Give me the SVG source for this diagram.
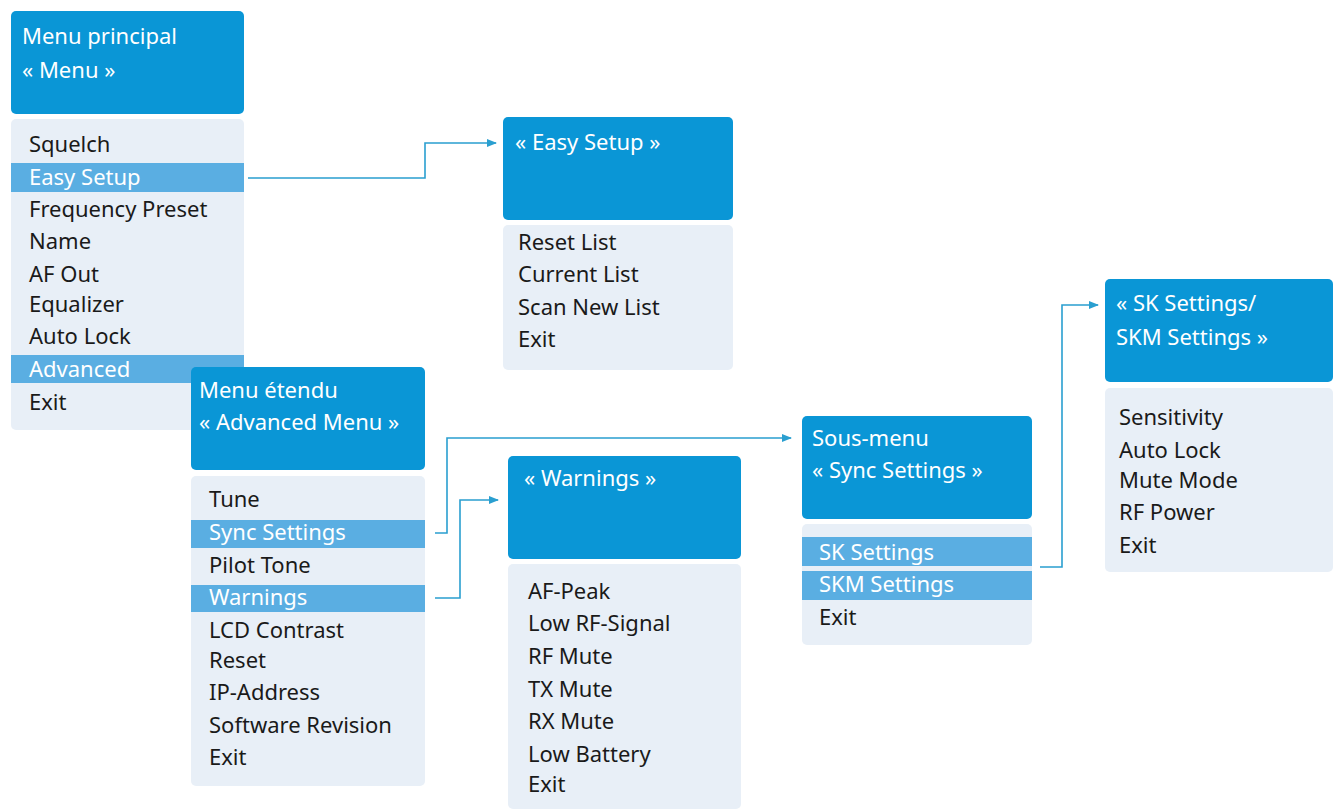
<svg xmlns="http://www.w3.org/2000/svg" width="1340" height="809" viewBox="0 0 1340 809">
<defs>
<marker id="ar" markerWidth="10" markerHeight="8" refX="9" refY="4" orient="auto" markerUnits="userSpaceOnUse"><path d="M0,0 L10,4 L0,8 z" fill="#2a9fd0"/></marker>
</defs>
<style>
.h{fill:#0a96d6}
.b{fill:#e8eff7}
.hl{fill:#5aaee2}
.ht{font-family:"Noto Sans","Open Sans",sans-serif;font-size:22px;fill:#fff}
.t{font-family:"Noto Sans","Open Sans",sans-serif;font-size:22px;fill:#1a1a1a}
.w{fill:#fff}
.c{fill:none;stroke:#2a9fd0;stroke-width:1.6}
</style>
<rect width="1340" height="809" fill="#fff"/>
<g id="main">
<rect class="b" x="11" y="119" width="233" height="311" rx="5"/>
<rect class="hl" x="11" y="163" width="233" height="29"/>
<rect class="hl" x="11" y="355" width="233" height="28"/>
<rect class="h" x="11" y="11" width="233" height="103" rx="5"/>
<text class="ht" x="22" y="44">Menu principal</text>
<text class="ht" x="22" y="78">« Menu »</text>
<text class="t" x="29" y="152">Squelch</text>
<text class="t w" x="29" y="185" style="fill:#fff">Easy Setup</text>
<text class="t" x="29" y="217">Frequency Preset</text>
<text class="t" x="29" y="249">Name</text>
<text class="t" x="29" y="282">AF Out</text>
<text class="t" x="29" y="312">Equalizer</text>
<text class="t" x="29" y="344">Auto Lock</text>
<text class="t" x="29" y="377" style="fill:#fff">Advanced</text>
<text class="t" x="29" y="410">Exit</text>
</g>
<g id="easy">
<rect class="b" x="503" y="225" width="230" height="145" rx="5"/>
<rect class="h" x="503" y="117" width="230" height="103" rx="5"/>
<text class="ht" x="515" y="150">« Easy Setup »</text>
<text class="t" x="518" y="250">Reset List</text>
<text class="t" x="518" y="282">Current List</text>
<text class="t" x="518" y="315">Scan New List</text>
<text class="t" x="518" y="347">Exit</text>
</g>
<g id="advanced">
<rect class="b" x="191" y="476" width="234" height="310" rx="5"/>
<rect class="hl" x="191" y="520" width="234" height="28"/>
<rect class="hl" x="191" y="585" width="234" height="27"/>
<rect class="h" x="191" y="367" width="234" height="103" rx="5"/>
<text class="ht" x="199" y="398">Menu étendu</text>
<text class="ht" x="199" y="430">« Advanced Menu »</text>
<text class="t" x="209" y="507">Tune</text>
<text class="t" x="209" y="540" style="fill:#fff">Sync Settings</text>
<text class="t" x="209" y="573">Pilot Tone</text>
<text class="t" x="209" y="605" style="fill:#fff">Warnings</text>
<text class="t" x="209" y="638">LCD Contrast</text>
<text class="t" x="209" y="668">Reset</text>
<text class="t" x="209" y="700">IP-Address</text>
<text class="t" x="209" y="733">Software Revision</text>
<text class="t" x="209" y="765">Exit</text>
</g>
<g id="warnings">
<rect class="b" x="508" y="564" width="233" height="245" rx="5"/>
<rect class="h" x="508" y="456" width="233" height="103" rx="5"/>
<text class="ht" x="524" y="486">« Warnings »</text>
<text class="t" x="528" y="599">AF-Peak</text>
<text class="t" x="528" y="631">Low RF-Signal</text>
<text class="t" x="528" y="664">RF Mute</text>
<text class="t" x="528" y="697">TX Mute</text>
<text class="t" x="528" y="729">RX Mute</text>
<text class="t" x="528" y="762">Low Battery</text>
<text class="t" x="528" y="792">Exit</text>
</g>
<g id="sync">
<rect class="b" x="802" y="524" width="230" height="121" rx="5"/>
<rect class="hl" x="802" y="537" width="230" height="29"/>
<rect class="hl" x="802" y="571" width="230" height="29"/>
<rect class="h" x="802" y="416" width="230" height="103" rx="5"/>
<text class="ht" x="812" y="446">Sous-menu</text>
<text class="ht" x="812" y="478">« Sync Settings »</text>
<text class="t" x="819" y="560" style="fill:#fff">SK Settings</text>
<text class="t" x="819" y="592" style="fill:#fff">SKM Settings</text>
<text class="t" x="819" y="625">Exit</text>
</g>
<g id="sk">
<rect class="b" x="1105" y="388" width="228" height="184" rx="5"/>
<rect class="h" x="1105" y="279" width="228" height="103" rx="5"/>
<text class="ht" x="1116" y="311">« SK Settings/</text>
<text class="ht" x="1116" y="345">SKM Settings »</text>
<text class="t" x="1119" y="425">Sensitivity</text>
<text class="t" x="1119" y="458">Auto Lock</text>
<text class="t" x="1119" y="488">Mute Mode</text>
<text class="t" x="1119" y="520">RF Power</text>
<text class="t" x="1119" y="553">Exit</text>
</g>
<g id="connectors">
<path class="c" d="M248,178 H425 V143 H496" marker-end="url(#ar)"/>
<path class="c" d="M435,533 H447 V438 H791" marker-end="url(#ar)"/>
<path class="c" d="M435,598 H460 V500 H498" marker-end="url(#ar)"/>
<path class="c" d="M1040,567 H1062 V305 H1098" marker-end="url(#ar)"/>
</g>
</svg>
